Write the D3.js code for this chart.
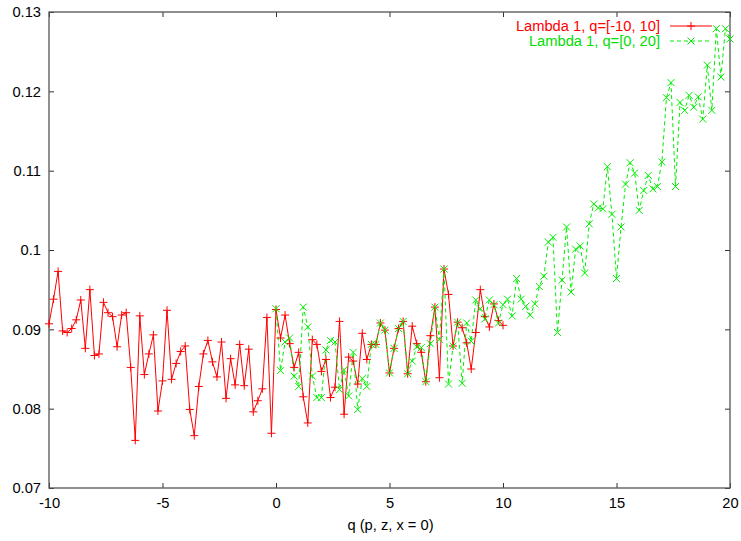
<!DOCTYPE html>
<html>
<head>
<meta charset="utf-8">
<script src="https://cdn.jsdelivr.net/npm/d3@7"></script>
<style>
  html, body { margin: 0; padding: 0; background: #fff; }
  svg { display: block; font-family: "Liberation Sans", Arial, Helvetica, sans-serif; }
</style>
</head>
<body>
<svg id="chart" width="741" height="541"></svg>
<script>
// ---- Data ----
const qStep = 0.2;
const redStart = -10;
const redValues = [
  0.0907, 0.0938, 0.0973, 0.0898, 0.0896, 0.0901, 0.0912, 0.0937, 0.0876, 0.0950,
  0.0867, 0.0869, 0.0934, 0.0921, 0.0916, 0.0878, 0.0918, 0.0921, 0.0852, 0.0760,
  0.0917, 0.0843, 0.0869, 0.0893, 0.0797, 0.0835, 0.0924, 0.0837, 0.0857, 0.0872,
  0.0879, 0.0799, 0.0766, 0.0828, 0.0869, 0.0886, 0.0859, 0.0840, 0.0884, 0.0813,
  0.0863, 0.0830, 0.0881, 0.0829, 0.0875, 0.0796, 0.0810, 0.0825, 0.0915, 0.0769,
  0.0925, 0.0889, 0.0918, 0.0882, 0.0852, 0.0871, 0.0815, 0.0782, 0.0887, 0.0881,
  0.0847, 0.0862, 0.0814, 0.0827, 0.0910, 0.0793, 0.0865, 0.0860, 0.0831, 0.0895,
  0.0862, 0.0881, 0.0881, 0.0908, 0.0899, 0.0845, 0.0876, 0.0901, 0.0910, 0.0844,
  0.0904, 0.0882, 0.0871, 0.0834, 0.0892, 0.0928, 0.0839, 0.0976, 0.0944, 0.0879,
  0.0909, 0.0902, 0.0883, 0.0850, 0.0896, 0.0950, 0.0916, 0.0903, 0.0932, 0.0911,
  0.0905
];
const greenStart = 0;
const greenValues = [
  0.0926, 0.0848, 0.0884, 0.0889, 0.0841, 0.0828, 0.0928, 0.0903, 0.0841, 0.0814,
  0.0814, 0.0874, 0.0886, 0.0884, 0.0824, 0.0849, 0.0816, 0.0871, 0.0799, 0.0838,
  0.0828, 0.0881, 0.0881, 0.0908, 0.0899, 0.0845, 0.0876, 0.0901, 0.0910, 0.0844,
  0.0860, 0.0878, 0.0877, 0.0834, 0.0882, 0.0928, 0.0887, 0.0976, 0.0831, 0.0879,
  0.0909, 0.0832, 0.0908, 0.0885, 0.0937, 0.0926, 0.0913, 0.0937, 0.0931, 0.0908,
  0.0931, 0.0938, 0.0917, 0.0964, 0.0938, 0.0929, 0.0918, 0.0932, 0.0954, 0.0967,
  0.1010, 0.1016, 0.0896, 0.0962, 0.1029, 0.0947, 0.1001, 0.1005, 0.0971, 0.1033,
  0.1058, 0.1053, 0.1052, 0.1105, 0.1045, 0.0964, 0.1029, 0.1083, 0.1110, 0.1097,
  0.1050, 0.1075, 0.1094, 0.1077, 0.1080, 0.1111, 0.1192, 0.1211, 0.1080, 0.1186,
  0.1176, 0.1195, 0.1180, 0.1193, 0.1165, 0.1233, 0.1176, 0.1279, 0.1218, 0.1279,
  0.1266
];
const seriesNames = ["Lambda 1, q=[-10, 10]", "Lambda 1, q=[0, 20]"];
const xTicks = [-10, -5, 0, 5, 10, 15, 20];
const xTickLabels = ["-10", "-5", "0", "5", "10", "15", "20"];
const yTicks = [0.07, 0.08, 0.09, 0.10, 0.11, 0.12, 0.13];
const yTickLabels = ["0.07", "0.08", "0.09", "0.1", "0.11", "0.12", "0.13"];
const xLabel = "q (p, z, x = 0)";

// ---- Layout ----
const svg = d3.select("#chart");
const L = 49, R = 730, T = 12, B = 488;
const FS = "14.7px";
const x = d3.scaleLinear().domain([-10, 20]).range([L, R]);
const y = d3.scaleLinear().domain([0.07, 0.13]).range([B, T]);

const redColor = "#ff0000", greenColor = "#00ee00";
const toPts = (vals, start) => vals.map((v, i) => ({ q: start + i * qStep, v }));
const redPts = toPts(redValues, redStart);
const greenPts = toPts(greenValues, greenStart);

// Axes (ticks inward, mirrored)
const tickLen = 5;
const axisG = svg.append("g");
const axBottom = d3.axisBottom(x).tickValues(xTicks).tickSizeInner(-tickLen).tickSizeOuter(0).tickPadding(10)
  .tickFormat((d, i) => xTickLabels[i]);
const axTop = d3.axisTop(x).tickValues(xTicks).tickSizeInner(-tickLen).tickSizeOuter(0).tickFormat("");
const axLeft = d3.axisLeft(y).tickValues(yTicks).tickSizeInner(-tickLen).tickSizeOuter(0).tickPadding(8)
  .tickFormat((d, i) => yTickLabels[i]);
const axRight = d3.axisRight(y).tickValues(yTicks).tickSizeInner(-tickLen).tickSizeOuter(0).tickFormat("");

function styleAxis(g) {
  g.attr("font-family", null).attr("font-size", null);
  g.select(".domain").remove();
  g.selectAll(".tick line").attr("stroke", "#333").attr("stroke-width", 1);
  g.selectAll(".tick text").attr("fill", "#000").style("font-size", FS);
}
axisG.append("g").attr("transform", `translate(0,${B})`).call(axBottom).call(styleAxis);
axisG.append("g").attr("transform", `translate(0,${T})`).call(axTop).call(styleAxis);
axisG.append("g").attr("transform", `translate(${L},0)`).call(axLeft).call(styleAxis);
axisG.append("g").attr("transform", `translate(${R},0)`).call(axRight).call(styleAxis);

// Border
svg.append("rect").attr("x", L).attr("y", T).attr("width", R - L).attr("height", B - T)
  .attr("fill", "none").attr("stroke", "#555").attr("stroke-width", 1.3);

// X label
svg.append("text").attr("x", (L + R) / 2 + 1).attr("y", 530).attr("text-anchor", "middle")
  .style("font-size", FS).attr("fill", "#000").text(xLabel);

// Lines
const line = d3.line().x(d => x(d.q)).y(d => y(d.v));
svg.append("path").datum(redPts).attr("d", line).attr("fill", "none")
  .attr("stroke", redColor).attr("stroke-width", 1);
svg.append("path").datum(greenPts).attr("d", line).attr("fill", "none")
  .attr("stroke", greenColor).attr("stroke-width", 1).attr("stroke-dasharray", "4,3");

// Markers
const plusPath = s => `M${-s},0H${s}M0,${-s}V${s}`;
const crossPath = s => `M${-s},${-s}L${s},${s}M${-s},${s}L${s},${-s}`;
svg.append("g").selectAll("path").data(redPts).join("path")
  .attr("transform", d => `translate(${x(d.q)},${y(d.v)})`)
  .attr("d", plusPath(4)).attr("stroke", redColor).attr("stroke-width", 1).attr("fill", "none");
svg.append("g").selectAll("path").data(greenPts).join("path")
  .attr("transform", d => `translate(${x(d.q)},${y(d.v)})`)
  .attr("d", crossPath(3.5)).attr("stroke", greenColor).attr("stroke-width", 1).attr("fill", "none");

// Legend
const legend = svg.append("g");
const legItems = [
  { name: seriesNames[0], color: redColor, textColor: "#ff0000", dash: null, marker: plusPath(4), yy: 26 },
  { name: seriesNames[1], color: greenColor, textColor: "#00dd00", dash: "4,3", marker: crossPath(3.5), yy: 41 }
];
legItems.forEach(it => {
  legend.append("text").attr("x", 660).attr("y", it.yy).attr("dy", "0.35em")
    .attr("text-anchor", "end").style("font-size", FS).attr("fill", it.textColor).text(it.name);
  legend.append("line").attr("x1", 670).attr("x2", 712).attr("y1", it.yy).attr("y2", it.yy)
    .attr("stroke", it.color).attr("stroke-width", 1).attr("stroke-dasharray", it.dash);
  legend.append("path").attr("transform", `translate(691,${it.yy})`).attr("d", it.marker)
    .attr("stroke", it.color).attr("stroke-width", 1).attr("fill", "none");
});
</script>
</body>
</html>
